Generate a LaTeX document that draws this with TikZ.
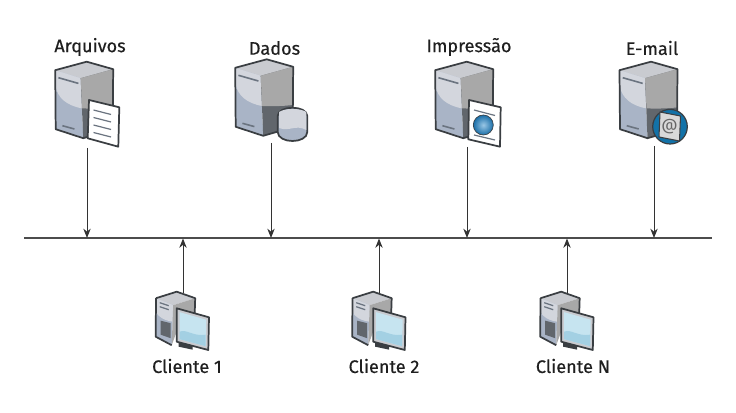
\documentclass[tikz,border=0pt]{standalone}
\usepackage{fontspec}
\setmainfont{Fira Sans}
\newfontfamily\lblfont[FakeBold=0.35]{Fira Sans}
\usetikzlibrary{arrows.meta}
\definecolor{ol}{HTML}{3A3E42}
\definecolor{topc}{HTML}{C9CBD0}
\definecolor{lfu}{HTML}{D3D6DD}
\definecolor{lfl}{HTML}{A9B4C6}
\definecolor{rfu}{HTML}{A8A8A8}
\definecolor{rfl}{HTML}{61666C}
\definecolor{slit}{HTML}{6B7480}
\definecolor{screen}{HTML}{C6E4F0}
\definecolor{wave}{HTML}{A3D0E3}
\definecolor{globe}{HTML}{1F82C6}
\definecolor{ring}{HTML}{1272A8}
\tikzset{
 x=0.75pt,y=-0.75pt,
 lbl/.style={font=\lblfont\fontsize{13.6}{16}\selectfont,text=black!88,inner sep=0pt},
 outl/.style={draw=ol,line width=1.3pt,line join=round},
 thin outl/.style={draw=ol,line width=.8pt,line join=round},
 conn/.style={draw=black!80,line width=.7pt,-{Stealth[length=7pt,width=5.5pt]}},
 bus/.style={draw=black!70,line width=1.1pt},
 pics/server/.style={code={
  \fill[topc] (0,0)--(26.5,7.5)--(-6,16.5)--(-31.5,8.5)--cycle;
  \fill[lfl] (-31.5,8.5)--(-6,16.5)--(-3.5,76.5)--(-31,67.5)--cycle;
  \fill[lfu] (-31.5,8.5)--(-6,16.5)--(-4.5,46.7) .. controls (-20,44) and (-29,36) .. (-31,25)--cycle;
  \fill[rfl] (-6,16.5)--(26.5,7.5)--(26,68)--(-3.5,76.5)--cycle;
  \fill[rfu] (-6,16.5)--(26.5,7.5)--(26,45.7) .. controls (15,47) and (5,47) .. (-4.5,46.7)--cycle;
  \draw[outl] (0,0)--(26.5,7.5)--(26,68)--(-3.5,76.5)--(-31,67.5)--(-31.5,8.5)--cycle;
  \draw[slit,line width=1.2pt] (-28.3,16)--(-8.3,21.7) (-24.3,64)--(-12.3,67.3);
 }},
 pics/client/.style={code={
  \fill[topc] (0,0)--(18.5,6.5)--(-3.5,13.5)--(-20.7,6.5)--cycle;
  \fill[lfl] (-20.7,6.5)--(-3.5,13.5)--(-5,53.5)--(-21,45)--cycle;
  \fill[lfu] (-20.7,6.5)--(-3.5,13.5)--(-4,30) .. controls (-12,29) and (-19,25) .. (-20.8,20)--cycle;
  \fill[rfu] (-3.5,13.5)--(18.5,6.5)--(18,30)--(0,40)--(-5,53.5)--cycle;
  \fill[rfl] (-16,29)--(-6,31.5)--(-6,46.5)--(-16,43)--cycle;
  \draw[outl] (-20.7,6.5)--(0,0)--(18.5,6.5)--(18,22) (-5,53.5)--(-21,45)--(-20.7,6.5);
  \draw[slit,line width=.9pt] (-17,11)--(-8,14) (-17,15)--(-8,18);
  \fill[ol] (2,48)--(16,52)--(16,58)--(2,55)--cycle;
  \draw[outl,fill=topc] (0,16.6)--(32.3,25.6)--(31.6,58.3)--(0,50)--cycle;
  \fill[screen] (3,20.5)--(29.5,28)--(29,54.5)--(3,47.5)--cycle;
  \fill[wave] (3,40) .. controls (10,37) and (16,45) .. (29,43)--(29,54.5)--(3,47.5)--cycle;
 }},
}
\begin{document}
\begin{tikzpicture}
\useasboundingbox (0,0) rectangle (736,413);
\fill[white] (0,0) rectangle (736,413);
% servers
\pic at (86.7,61.7) {server};
\pic at (266.7,59.3) {server};
\pic at (466.7,61.7) {server};
\pic at (651,61.7) {server};
% document
\draw[outl,fill=white] (89,100)--(119.3,107.3)--(118.3,146.7)--(87.7,138.3)--cycle;
\draw[slit,line width=.9pt] (93.5,110)--(111,114.5) (93.5,117.5)--(111,122) (93.5,125)--(111,129.5) (93.5,132.5)--(111,137);
% database
\draw[outl,fill=lfl] (277.7,116) .. controls (278,105) and (307,105) .. (307.3,116) -- (307.3,132) .. controls (307,144) and (278,144) .. (277.7,132) -- cycle;
\fill[lfu] (279,112) .. controls (285,108) and (300,108) .. (306.4,112)--(306.4,130) .. controls (295,124) and (290,132) .. (279,128)--cycle;
% print doc
\draw[outl,fill=white] (469,100)--(500.7,107.3)--(500,146.7)--(468.3,139.3)--cycle;
\draw[slit,line width=.9pt] (474,110)--(495,115.5) (474,135)--(495,140);
\shade[inner color=globe!45!white,outer color=globe!85!black,draw=ol,line width=.5pt] (483.3,125) circle[radius=10];
% email
\fill[ring] (670,126.7) circle[radius=17.3];
\draw[ol,line width=.9pt] (670,126.7) circle[radius=17.3];
\draw[thin outl,fill=white!85!black] (660,112)--(680.5,116)--(679.5,141)--(659,137)--cycle;
\node[inner sep=0pt,font=\fontsize{12}{12}\selectfont,text=black!60] (at) at (669.5,126.5) {@};
% clients
\pic at (176.7,291.7) {client};
\pic at (373.2,291.7) {client};
\pic at (561.2,291.7) {client};
% labels
\node[lbl] (lA) at (90,47) {Arquivos};
\node[lbl] (lD) at (274.5,48) {Dados};
\node[lbl] (lI) at (469,47) {Impressão};
\node[lbl] (lE) at (652,48) {E-mail};
\node[lbl] (l1) at (187,366) {Cliente 1};
\node[lbl] (l2) at (384,366) {Cliente 2};
\node[lbl] (lN) at (573,366) {Cliente N};
% bus
\coordinate (busL) at (24,238);
\coordinate (busR) at (712,238);
\draw[bus] (busL)--(busR);
\foreach \n/\x/\y in {a/87/148,d/271/143,i/467/147,e/654/146}{
 \coordinate (s\n) at (\x,\y);
 \coordinate (b\n) at (\x,238);
 \draw[conn] (s\n)--(b\n);
}
\foreach \n/\x in {p/183,q/379,r/567}{
 \coordinate (c\n) at (\x,293);
 \coordinate (t\n) at (\x,238.5);
 \draw[conn] (c\n)--(t\n);
}
\end{tikzpicture}
\end{document}
